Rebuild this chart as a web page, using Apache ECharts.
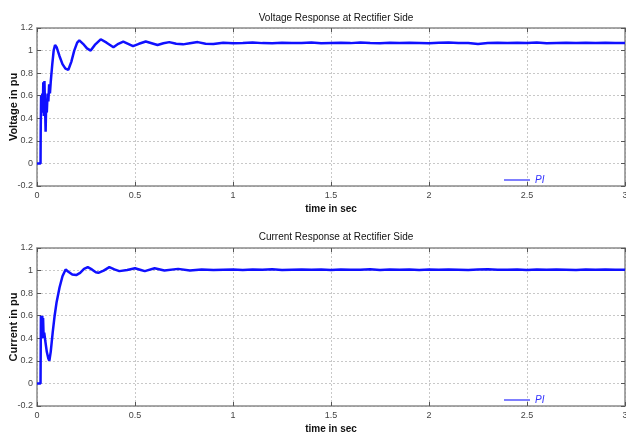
<!DOCTYPE html>
<html>
<head>
<meta charset="utf-8">
<script src="https://cdn.jsdelivr.net/npm/echarts@6/dist/echarts.min.js"></script>
<style>html,body{margin:0;padding:0;background:#fff}#c{width:626px;height:435px}</style>
</head>
<body>
<div id="c"></div>
<script>
var xTicks = [0, 0.5, 1, 1.5, 2, 2.5, 3];
var yTicks = [-0.2, 0, 0.2, 0.4, 0.6, 0.8, 1, 1.2];

var voltTime = [0,0.018,0.019,0.021,0.024,0.027,0.030,0.032,0.035,0.038,0.041,0.044,0.047,0.050,0.054,0.058,0.062,0.066,0.070,0.078,0.085,0.092,0.1,0.115,0.13,0.145,0.16,0.175,0.19,0.205,0.216,0.235,0.255,0.274,0.295,0.325,0.355,0.39,0.415,0.44,0.465,0.49,0.52,0.555,0.585,0.615,0.645,0.675,0.71,0.745,0.78,0.82,0.86,0.9,
0.95,1.0,1.05,1.1,1.15,1.2,1.25,1.3,1.35,1.4,1.45,1.5,1.55,1.6,1.65,1.7,1.75,1.8,1.85,1.9,1.95,2.0,2.05,2.1,2.15,2.2,2.25,2.3,2.35,2.4,2.45,2.5,2.55,2.6,2.65,2.7,2.75,2.8,2.85,2.9,2.95,3.0];
var voltValue = [0,0,0.3,0.6,0.45,0.62,0.5,0.72,0.42,0.73,0.5,0.28,0.55,0.45,0.62,0.55,0.7,0.62,0.72,0.88,1.0,1.05,1.03,0.95,0.88,0.84,0.83,0.9,1.0,1.07,1.09,1.06,1.02,1.0,1.05,1.1,1.07,1.03,1.06,1.08,1.06,1.04,1.06,1.08,1.065,1.05,1.065,1.075,1.06,1.055,1.065,1.075,1.06,1.058,
1.07,1.065,1.068,1.072,1.066,1.064,1.07,1.068,1.066,1.071,1.065,1.068,1.07,1.066,1.072,1.067,1.065,1.069,1.066,1.07,1.067,1.064,1.069,1.071,1.066,1.068,1.058,1.067,1.07,1.066,1.069,1.067,1.071,1.065,1.068,1.07,1.066,1.069,1.067,1.07,1.066,1.068];

var currTime = [0,0.018,0.019,0.020,0.023,0.025,0.027,0.029,0.031,0.034,0.037,0.042,0.05,0.058,0.063,0.07,0.08,0.09,0.1,0.115,0.13,0.146,0.16,0.18,0.2,0.22,0.24,0.259,0.28,0.3,0.313,0.34,0.369,0.395,0.42,0.46,0.5,0.53,0.55,0.6,0.65,0.72,0.78,0.84,0.9,
0.95,1.0,1.05,1.1,1.15,1.2,1.25,1.3,1.35,1.4,1.45,1.5,1.55,1.6,1.65,1.7,1.75,1.8,1.85,1.9,1.95,2.0,2.05,2.1,2.15,2.2,2.25,2.3,2.35,2.4,2.45,2.5,2.55,2.6,2.65,2.7,2.75,2.8,2.85,2.9,2.95,3.0];
var currValue = [0,0,0.3,0.6,0.6,0.4,0.6,0.42,0.58,0.4,0.45,0.38,0.28,0.22,0.2,0.28,0.45,0.6,0.72,0.85,0.95,1.01,0.99,0.965,0.96,0.98,1.015,1.03,1.01,0.985,0.98,1.0,1.03,1.01,0.995,1.005,1.02,1.005,0.995,1.02,1.0,1.015,1.0,1.01,1.005,
1.008,1.01,1.006,1.009,1.007,1.011,1.006,1.008,1.01,1.007,1.009,1.006,1.01,1.008,1.007,1.011,1.006,1.009,1.008,1.01,1.006,1.009,1.007,1.01,1.008,1.006,1.009,1.011,1.007,1.008,1.01,1.006,1.009,1.007,1.01,1.008,1.006,1.009,1.008,1.01,1.007,1.008];

function zip(a, b) { return a.map(function (t, i) { return [t, b[i]]; }); }

var FONT = 'Liberation Sans, Arial, sans-serif';
var gridDefs = [
  { left: 37, top: 28, width: 588, height: 158, outerBoundsMode: 'none', containLabel: false },
  { left: 37, top: 248, width: 588, height: 158, outerBoundsMode: 'none', containLabel: false }
];

var lineSt = { color: '#8a8a8a', width: 1.5 };
var tickSt = { show: true, inside: true, length: 4, lineStyle: { color: '#555' } };
var gridLineSt = { show: true, lineStyle: { color: '#c8c8c8', type: [2, 2] } };

function mainX(gi) {
  return {
    type: 'value', gridIndex: gi, min: xTicks[0], max: xTicks[xTicks.length - 1], interval: 0.5,
    name: 'time in sec', nameLocation: 'middle', nameGap: 18, nameMoveOverlap: false,
    nameTextStyle: { fontFamily: FONT, fontSize: 10, fontWeight: 'bold', color: '#111' },
    axisLine: { show: true, onZero: false, lineStyle: lineSt },
    axisTick: tickSt,
    axisLabel: { fontFamily: FONT, fontSize: 9, color: '#444', margin: 5 },
    splitLine: gridLineSt
  };
}
function topX(gi) {
  return {
    type: 'value', gridIndex: gi, position: 'top', min: 0, max: 3, interval: 0.5,
    axisLine: { show: true, onZero: false, lineStyle: lineSt },
    axisTick: tickSt,
    axisLabel: { show: false }, splitLine: { show: false }
  };
}
function mainY(gi, name) {
  return {
    type: 'value', gridIndex: gi, min: yTicks[0], max: yTicks[yTicks.length - 1], interval: 0.2,
    name: name, nameLocation: 'middle', nameGap: 18, nameMoveOverlap: false,
    nameTextStyle: { fontFamily: FONT, fontSize: 11, fontWeight: 'bold', color: '#111' },
    axisLine: { show: true, onZero: false, lineStyle: lineSt },
    axisTick: tickSt,
    axisLabel: { fontFamily: FONT, fontSize: 9, color: '#444', margin: 4,
      formatter: function (v) { return String(Math.round(v * 10) / 10); } },
    splitLine: gridLineSt
  };
}
function rightY(gi) {
  return {
    type: 'value', gridIndex: gi, position: 'right', min: -0.2, max: 1.2, interval: 0.2,
    axisLine: { show: true, onZero: false, lineStyle: lineSt },
    axisTick: tickSt,
    axisLabel: { show: false }, splitLine: { show: false }
  };
}
function legendAt(top) {
  return {
    left: 499, top: top, itemWidth: 26, itemHeight: 2, itemGap: 2, icon: 'rect',
    selectedMode: false,
    data: [{ name: 'PI', itemStyle: { color: '#7f7fff' } }],
    textStyle: { fontFamily: FONT, fontSize: 10, fontStyle: 'italic', color: '#3333ff', padding: [0, 0, 6, 0] }
  };
}

var chart = echarts.init(document.getElementById('c'), null, { renderer: 'canvas' });
chart.setOption({
  animation: false,
  backgroundColor: '#fff',
  title: [
    { text: 'Voltage Response at Rectifier Side', left: 331, top: 8, textAlign: 'center',
      textStyle: { fontFamily: FONT, fontSize: 10, fontWeight: 'normal', color: '#111' } },
    { text: 'Current Response at Rectifier Side', left: 331, top: 227, textAlign: 'center',
      textStyle: { fontFamily: FONT, fontSize: 10, fontWeight: 'normal', color: '#111' } }
  ],
  legend: [legendAt(170), legendAt(390)],
  grid: gridDefs,
  xAxis: [mainX(0), mainX(1), topX(0), topX(1)],
  yAxis: [mainY(0, 'Voltage in pu'), mainY(1, 'Current in pu'), rightY(0), rightY(1)],
  series: [
    { name: 'PI', type: 'line', xAxisIndex: 0, yAxisIndex: 0, showSymbol: false,
      lineStyle: { color: '#1010ff', width: 2.5 }, itemStyle: { color: '#1010ff' },
      data: zip(voltTime, voltValue) },
    { name: 'PI', type: 'line', xAxisIndex: 1, yAxisIndex: 1, showSymbol: false,
      lineStyle: { color: '#1010ff', width: 2.5 }, itemStyle: { color: '#1010ff' },
      data: zip(currTime, currValue) }
  ]
});
</script>
</body>
</html>
